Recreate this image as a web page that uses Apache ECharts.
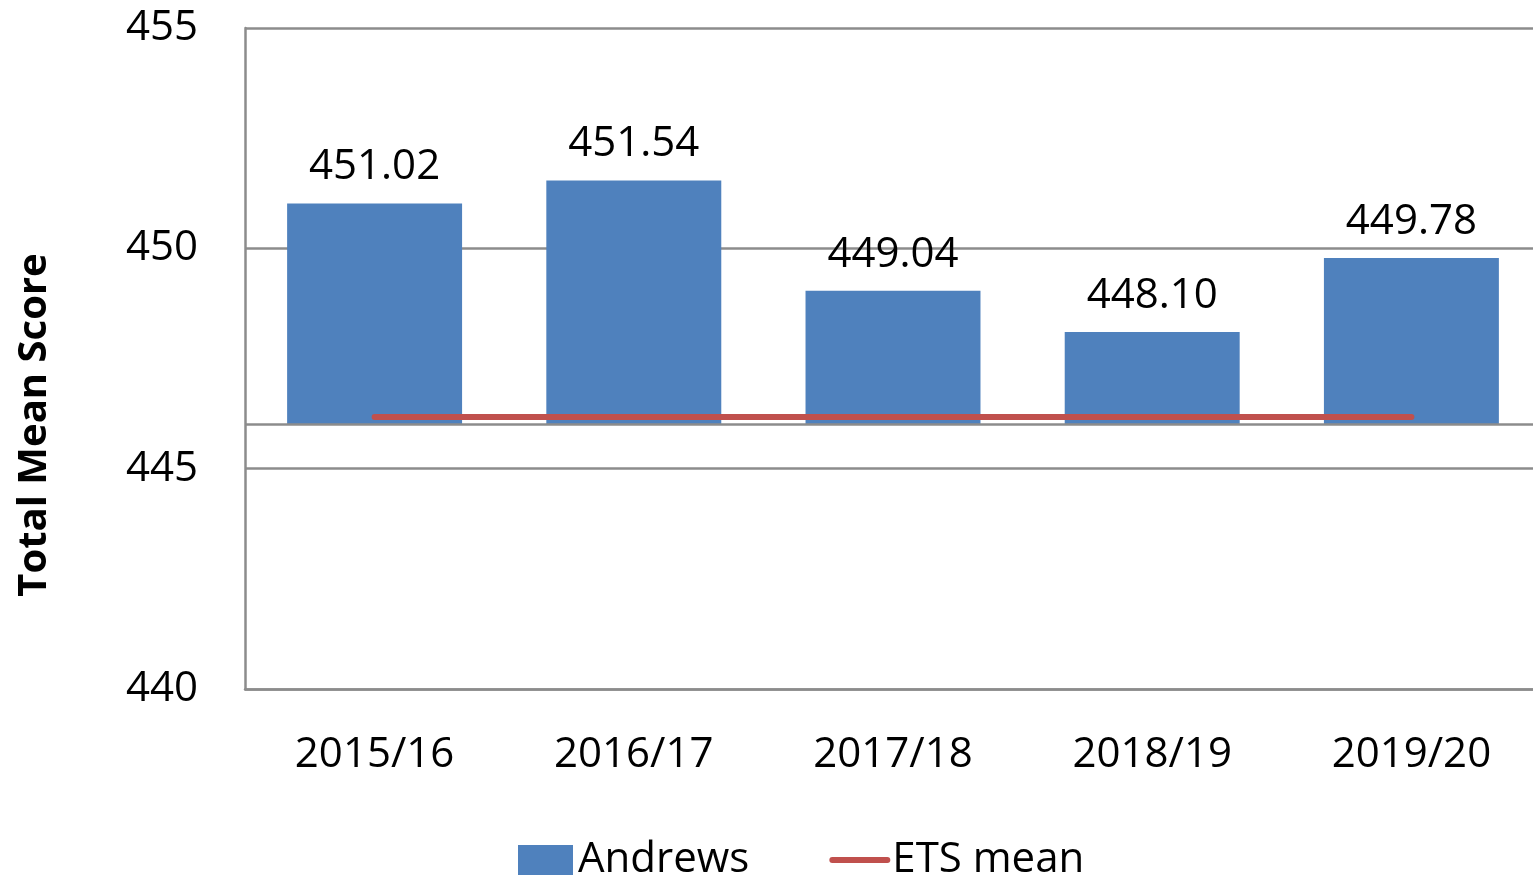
<!DOCTYPE html>
<html>
<head>
<meta charset="utf-8">
<script src="https://cdn.jsdelivr.net/npm/echarts@6/dist/echarts.min.js"></script>
<style>
  html, body { margin: 0; padding: 0; background: #fff; }
  #chart { width: 1533px; height: 877px; }
</style>
</head>
<body>
<div id="chart"></div>
<script>
const years = ['2015/16', '2016/17', '2017/18', '2018/19', '2019/20']
const andrewsScores = [451.02, 451.54, 449.04, 448.10, 449.78]
const etsMean = [446.17, 446.17, 446.17, 446.17, 446.17]
const axisCross = 446
const yTicks = { min: 440, max: 455, interval: 5 }

const font = '"Open Sans", "Noto Sans", sans-serif'
const gridGray = '#8c8c8c'

const chart = echarts.init(document.getElementById('chart'))

chart.setOption({
  animation: false,
  textStyle: { fontFamily: font },
  // plot runs past the right edge of the picture, like the cropped original
  grid: { left: 245, top: 28, width: 1296, height: 661, outerBoundsMode: 'none' },
  legend: {
    left: 513,
    top: 834,
    itemWidth: 55,
    itemHeight: 30,
    itemGap: 80,
    textStyle: { fontSize: 42, color: '#000', fontFamily: font },
    data: [
      { name: 'Andrews', icon: 'rect' },
      { name: 'ETS mean', itemStyle: { opacity: 0 }, lineStyle: { width: 6, cap: 'round' } }
    ]
  },
  graphic: [{
    type: 'text',
    x: 35,
    y: 425,
    rotation: Math.PI / 2,
    style: {
      text: 'Total Mean Score',
      font: 'bold 40px ' + font,
      fill: '#000',
      align: 'center',
      verticalAlign: 'middle'
    }
  }],
  xAxis: {
    type: 'category',
    data: years,
    axisTick: { show: false },
    axisLine: { onZero: false, lineStyle: { color: gridGray, width: 2.5 } },
    axisLabel: { fontSize: 42, color: '#000', margin: 45 }
  },
  yAxis: {
    type: 'value',
    min: yTicks.min,
    max: yTicks.max,
    interval: yTicks.interval,
    axisLine: { show: true, lineStyle: { color: gridGray, width: 2.5 } },
    axisTick: { show: false },
    axisLabel: { fontSize: 42, color: '#000', margin: 47, padding: [6, 0, 0, 0] },
    splitLine: { lineStyle: { color: gridGray, width: 2.5 } }
  },
  series: [
    {
      name: 'base',
      type: 'bar',
      stack: 'score',
      barWidth: '67.5%',
      silent: true,
      itemStyle: { color: 'transparent' },
      data: years.map(() => axisCross),
      markLine: {
        silent: true,
        symbol: 'none',
        label: { show: false },
        lineStyle: { color: gridGray, width: 2.5, type: 'solid' },
        data: [{ yAxis: axisCross }]
      }
    },
    {
      name: 'Andrews',
      type: 'bar',
      stack: 'score',
      barWidth: '67.5%',
      itemStyle: { color: '#4F81BD' },
      label: {
        show: true,
        position: 'top',
        distance: 15,
        fontSize: 42,
        color: '#000',
        formatter: p => andrewsScores[p.dataIndex].toFixed(2)
      },
      data: andrewsScores.map(v => +(v - axisCross).toFixed(2))
    },
    {
      name: 'ETS mean',
      type: 'line',
      symbol: 'none',
      z: 5,
      itemStyle: { color: '#C0504D' },
      lineStyle: { color: '#C0504D', width: 6, cap: 'round' },
      data: etsMean
    }
  ]
})
</script>
</body>
</html>
